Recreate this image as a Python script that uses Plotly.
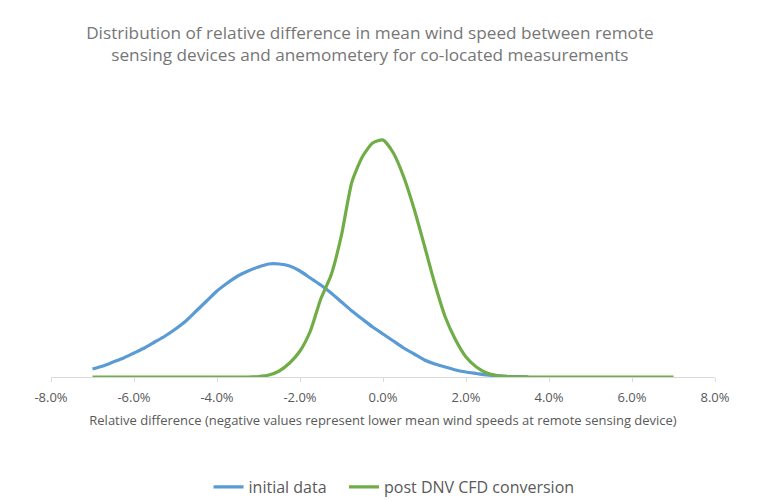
import plotly.graph_objects as go

# x positions (relative difference, %)
x_pct = [-7.0 + 0.25 * i for i in range(57)]

# initial data (arbitrary frequency units)
initial_data = [8, 11, 15, 19, 24, 29, 35, 41, 48, 56, 66, 76, 86, 94, 101, 106, 110, 113, 113,
                111, 106, 99, 92, 84, 75, 66, 58, 50, 43, 36, 29, 23, 17, 13, 10, 7, 5, 3.5,
                2, 1.2, 0.6, 0.3, 0.1] + [None] * 14

# post DNV CFD conversion
post_cfd = [0] * 16 + [0.5, 2, 6, 14, 26, 46, 78, 102, 142, 195, 220, 234, 237, 224, 200, 168,
                       131, 93, 60, 37, 20, 10, 4, 1.5, 0.5, 0.2] + [0] * 15

x_ticks = [-8, -6, -4, -2, 0, 2, 4, 6, 8]
x_tick_labels = ["-8.0%", "-6.0%", "-4.0%", "-2.0%", "0.0%", "2.0%", "4.0%", "6.0%", "8.0%"]

FONT = "Open Sans"
GREY = "#595959"

fig = go.Figure()
fig.add_trace(go.Scatter(x=x_pct, y=initial_data, mode="lines", name="initial data\u00a0\u00a0\u00a0",
                         line=dict(color="#5B9BD5", width=3.2, shape="spline", smoothing=0.6)))
fig.add_trace(go.Scatter(x=x_pct, y=post_cfd, mode="lines", name="post DNV CFD conversion",
                         line=dict(color="#70AD47", width=3.2, shape="spline", smoothing=0.6)))

fig.update_layout(
    width=754, height=492,
    paper_bgcolor="white", plot_bgcolor="white",
    margin=dict(l=43, r=47, t=93, b=123),
    title=dict(text="Distribution of relative difference in mean wind speed between remote<br>"
                    "sensing devices and anemometery for co-located measurements",
               xref="container", x=0.48, xanchor="center",
               yref="container", y=0.937, yanchor="middle",
               font=dict(family=FONT, size=17.2, color="#767676")),
    xaxis=dict(range=[-8, 8], tickvals=x_ticks, ticktext=x_tick_labels,
               showgrid=False, zeroline=False, showline=True, linecolor="#d9d9d9", linewidth=1,
               ticks="outside", ticklen=4, tickcolor="#d9d9d9", ticklabelstandoff=4,
               tickfont=dict(family=FONT, size=13, color=GREY),
               title=dict(text="Relative difference (negative values represent lower mean wind speeds at remote sensing device)",
                          font=dict(family=FONT, size=13, color=GREY), standoff=11)),
    yaxis=dict(range=[0, 276], visible=False),
    legend=dict(orientation="h", xref="container", x=0.512, xanchor="center",
                yref="container", y=0.0264, yanchor="middle",
                font=dict(family=FONT, size=16, color=GREY)),
    showlegend=True,
)

fig.write_html("out.html")
